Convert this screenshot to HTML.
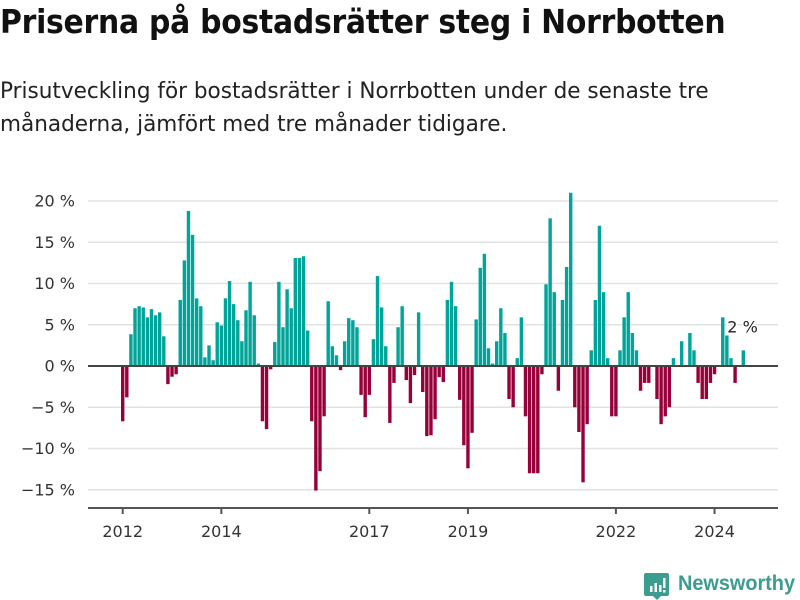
<!DOCTYPE html>
<html><head><meta charset="utf-8">
<style>
body{margin:0;background:#fff;width:800px;height:600px;overflow:hidden;font-family:"Liberation Sans","DejaVu Sans",sans-serif;}
h1{position:absolute;left:0;top:2px;margin:0;font-size:33px;font-weight:bold;color:#111;letter-spacing:-0.3px;font-family:"DejaVu Sans","Liberation Sans",sans-serif;transform:scaleX(0.905);transform-origin:left;white-space:nowrap}
p.sub{position:absolute;left:0;top:75px;margin:0;font-size:22px;line-height:33px;color:#222;width:760px;font-family:"DejaVu Sans","Liberation Sans",sans-serif;transform:scaleX(0.98);transform-origin:left}
svg{position:absolute;left:0;top:0}
</style></head><body>
<h1>Priserna på bostadsrätter steg i Norrbotten</h1>
<p class="sub">Prisutveckling för bostadsrätter i Norrbotten under de senaste tre månaderna, jämfört med tre månader tidigare.</p>
<svg id="chart" width="800" height="600"></svg>
<script>
const yTicks=[20,15,10,5,0,-5,-10,-15];
const yTickLabels=["20 %","15 %","10 %","5 %","0 %","−5 %","−10 %","−15 %"];
const xTickMonths=[0,24,60,84,120,144];
const xTickLabels=["2012","2014","2017","2019","2022","2024"];
const values=[-6.7,-3.8,3.85,7.0,7.25,7.1,5.9,6.9,6.15,6.5,3.6,-2.2,-1.3,-1.0,8.0,12.8,18.8,15.9,8.2,7.25,
1.05,2.5,0.7,5.3,4.9,8.2,10.3,7.5,5.55,3.0,6.75,10.2,6.15,0.3,-6.7,-7.65,-0.4,2.9,10.2,4.7,
9.3,7.0,13.1,13.1,13.3,4.3,-6.7,-15.1,-12.75,-6.1,7.85,2.4,1.3,-0.5,3.0,5.8,5.55,4.7,-3.5,-6.2,
-3.5,3.25,10.9,7.1,2.4,-6.9,-2.05,4.7,7.25,-1.7,-4.5,-1.1,6.5,-3.15,-8.5,-8.4,-6.45,-1.35,-1.95,8.0,
10.2,7.25,-4.1,-9.6,-12.4,-8.1,5.65,11.9,13.6,2.15,0.3,3.0,7.0,4.0,-4.0,-5.0,0.95,5.9,-6.1,-13.0,
-13.0,-13.0,-1.0,9.9,17.9,8.95,-3.0,8.0,12.0,21.0,-5.0,-8.0,-14.1,-7.05,1.9,8.0,17.0,8.95,0.95,-6.1,
-6.1,1.9,5.9,8.95,4.0,1.9,-3.0,-2.05,-2.05,0,-4.0,-7.05,-6.1,-5.0,0.95,0,3.0,0,4.0,1.9,
-2.05,-4.0,-4.0,-2.05,-1.0,0,5.9,3.7,0.95,-2.05,0,1.9];
const lastLabel="2 %";
const svg=document.getElementById('chart');
const NS='http://www.w3.org/2000/svg';
const y=v=>366-v*8.25;
const x=i=>122.7+i*4.11;
function mk(t,a){const e=document.createElementNS(NS,t);for(const k in a)e.setAttribute(k,a[k]);svg.appendChild(e);return e;}
yTicks.forEach((t,j)=>{
  if(t!==0){const g=mk('line',{x1:88,x2:778,y1:y(t),y2:y(t),stroke:'#e2e2e2','stroke-width':1.5});
  
  }
  const l=mk('text',{x:75,y:y(t)+5.5,'text-anchor':'end','font-size':16,fill:'#333','font-family':'DejaVu Sans, Liberation Sans, sans-serif'});
  l.textContent=yTickLabels[j];
  
  
});
values.forEach((v,i)=>{
  if(v===0)return;
  const r=mk('rect',{x:x(i)-1.7,width:3.4,y:Math.min(y(v),y(0)),height:Math.abs(y(v)-y(0)),fill:v>0?'#00a499':'#970038'});
  
  
});
const z=mk('line',{x1:88,x2:778,y1:y(0),y2:y(0),stroke:'#444','stroke-width':2});


const ax=mk('line',{x1:88,x2:778,y1:508,y2:508,stroke:'#555','stroke-width':2});


xTickMonths.forEach((m,j)=>{
  const tk=mk('line',{x1:x(m),x2:x(m),y1:508,y2:514,stroke:'#555','stroke-width':2});
  
  
  const t=mk('text',{x:x(m),y:537,'text-anchor':'middle','font-size':16,fill:'#333','font-family':'DejaVu Sans, Liberation Sans, sans-serif'});
  t.textContent=xTickLabels[j];
  
  
});
const li=values.length-1;
const lb=mk('text',{x:x(li)-16,y:y(values[li])-18,'font-size':16,fill:'#222',stroke:'#fff','stroke-width':3,'paint-order':'stroke','font-family':'DejaVu Sans, Liberation Sans, sans-serif'});
lb.textContent=lastLabel;


</script>
<svg width="800" height="600" style="pointer-events:none">
<path d="M646 573 h21 a2 2 0 0 1 2 2 v19 a2 2 0 0 1 -2 2 h-6 l-4 4 l-4 -4 h-7 a2 2 0 0 1 -2 -2 v-19 a2 2 0 0 1 2 -2z" fill="#3b9c90"/>
<rect x="650" y="586" width="2.5" height="6" fill="#fff"/><rect x="654.5" y="583" width="2.5" height="9" fill="#fff"/><rect x="659" y="585" width="2.5" height="7" fill="#fff"/><rect x="663" y="578" width="2.5" height="10" fill="#fff"/><rect x="663" y="590" width="2.5" height="2.5" fill="#fff"/>
<text x="678" y="590" font-size="21" font-weight="bold" fill="#3b9c90" textLength="117" lengthAdjust="spacingAndGlyphs" font-family="Liberation Sans, sans-serif">Newsworthy</text>
</svg>
</body></html>
